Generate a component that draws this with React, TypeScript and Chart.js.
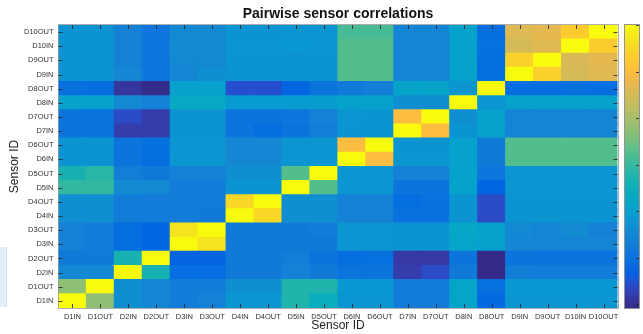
import React, { useEffect, useRef } from 'react';
import { Chart, registerables } from 'chart.js';

Chart.register(...registerables);

const sensors = ['D1IN', 'D1OUT', 'D2IN', 'D2OUT', 'D3IN', 'D3OUT', 'D4IN', 'D4OUT', 'D5IN', 'D5OUT',
  'D6IN', 'D6OUT', 'D7IN', 'D7OUT', 'D8IN', 'D8OUT', 'D9IN', 'D9OUT', 'D10IN', 'D10OUT'];

// correlation of each row sensor with the sensors in column order
const corrD1IN = [1, 0.55, 0.13, 0.09, 0.05, 0.07, 0.16, 0.16, 0.35, 0.29, 0.16, 0.16, 0.05, 0.05, 0.23, -0.04, 0.16, 0.16, 0.16, 0.16];
const corrD1OUT = [0.55, 1, 0.13, 0.09, 0.05, 0.05, 0.13, 0.13, 0.35, 0.35, 0.17, 0.17, 0.05, 0.05, 0.23, -0.01, 0.17, 0.17, 0.17, 0.17];
const corrD2IN = [0.11, 0.11, 1, 0.33, -0.02, -0.02, 0.04, 0.04, 0.07, 0.04, 0.01, 0.01, -0.16, -0.12, 0.04, -0.22, 0.06, 0.05, 0.05, 0.05];
const corrD2OUT = [0.04, 0.04, 0.33, 1, -0.06, -0.06, 0.04, 0.04, 0.06, 0.01, -0.02, -0.01, -0.17, -0.17, 0.01, -0.22, 0.01, 0.01, 0.01, 0.01];
const corrD3IN = [0.07, 0.05, -0.02, -0.05, 1, 0.94, 0.04, 0.04, 0.04, 0.04, 0.16, 0.16, 0.15, 0.15, 0.23, 0.21, 0.10, 0.09, 0.09, 0.09];
const corrD3OUT = [0.07, 0.05, -0.02, -0.05, 0.94, 1, 0.04, 0.04, 0.04, 0.05, 0.16, 0.16, 0.15, 0.15, 0.24, 0.22, 0.11, 0.09, 0.12, 0.07];
const corrD4IN = [0.13, 0.13, 0.05, 0.05, 0.05, 0.04, 1, 0.90, 0.13, 0.13, 0.07, 0.07, 0.0, 0.0, 0.15, -0.12, 0.15, 0.15, 0.15, 0.15];
const corrD4OUT = [0.13, 0.13, 0.05, 0.05, 0.05, 0.05, 0.90, 1, 0.13, 0.13, 0.07, 0.07, -0.02, 0.0, 0.15, -0.12, 0.15, 0.15, 0.15, 0.15];
const corrD5IN = [0.39, 0.39, 0.12, 0.11, 0.05, 0.05, 0.15, 0.15, 1, 0.45, 0.16, 0.16, 0.01, 0.01, 0.22, -0.05, 0.16, 0.16, 0.16, 0.16];
const corrD5OUT = [0.33, 0.37, 0.06, 0.04, 0.07, 0.07, 0.13, 0.13, 0.45, 1, 0.16, 0.16, 0.07, 0.07, 0.22, 0.02, 0.16, 0.16, 0.16, 0.16];
const corrD6IN = [0.15, 0.15, 0.01, -0.02, 0.16, 0.16, 0.10, 0.10, 0.16, 0.16, 1, 0.80, 0.16, 0.16, 0.21, 0.04, 0.45, 0.45, 0.45, 0.45];
const corrD6OUT = [0.15, 0.15, 0.01, -0.01, 0.16, 0.16, 0.10, 0.10, 0.16, 0.16, 0.80, 1, 0.15, 0.15, 0.21, 0.04, 0.45, 0.45, 0.45, 0.45];
const corrD7IN = [0.01, 0.01, -0.16, -0.16, 0.15, 0.15, 0.01, -0.02, 0.01, 0.06, 0.15, 0.15, 1, 0.80, 0.15, 0.22, 0.09, 0.09, 0.09, 0.09];
const corrD7OUT = [0.01, 0.01, -0.12, -0.16, 0.15, 0.15, 0.01, 0.01, 0.02, 0.07, 0.16, 0.15, 0.80, 1, 0.13, 0.22, 0.09, 0.09, 0.09, 0.09];
const corrD8IN = [0.22, 0.21, 0.11, 0.07, 0.26, 0.26, 0.18, 0.18, 0.18, 0.19, 0.22, 0.22, 0.13, 0.13, 1, 0.16, 0.22, 0.22, 0.22, 0.22];
const corrD8OUT = [-0.01, -0.02, -0.18, -0.21, 0.21, 0.21, -0.11, -0.11, -0.05, 0.01, 0.04, 0.06, 0.23, 0.23, 0.16, 1, -0.02, -0.02, -0.01, -0.02];
const corrD9IN = [0.15, 0.15, 0.10, 0.02, 0.10, 0.13, 0.15, 0.15, 0.15, 0.15, 0.45, 0.45, 0.09, 0.09, 0.22, -0.02, 1, 0.88, 0.70, 0.73];
const corrD9OUT = [0.15, 0.15, 0.07, 0.02, 0.11, 0.11, 0.15, 0.15, 0.15, 0.15, 0.45, 0.45, 0.09, 0.09, 0.22, -0.02, 0.88, 1, 0.71, 0.74];
const corrD10IN = [0.15, 0.15, 0.07, 0.02, 0.12, 0.12, 0.16, 0.16, 0.17, 0.16, 0.45, 0.45, 0.09, 0.09, 0.22, -0.01, 0.70, 0.73, 1, 0.86];
const corrD10OUT = [0.15, 0.15, 0.07, 0.02, 0.11, 0.11, 0.15, 0.15, 0.16, 0.16, 0.43, 0.43, 0.09, 0.09, 0.22, -0.02, 0.72, 0.74, 0.86, 1];

const corrRows = [corrD1IN, corrD1OUT, corrD2IN, corrD2OUT, corrD3IN, corrD3OUT, corrD4IN, corrD4OUT,
  corrD5IN, corrD5OUT, corrD6IN, corrD6OUT, corrD7IN, corrD7OUT, corrD8IN, corrD8OUT,
  corrD9IN, corrD9OUT, corrD10IN, corrD10OUT];

const colorMin = -0.217;
const colorMax = 1;
const colorbarTicks = [-0.2, 0, 0.2, 0.4, 0.6, 0.8, 1];

const chartTitle = 'Pairwise sensor correlations';
const axisTitle = 'Sensor ID';

// MATLAB parula colormap
const PARULA = [
  [0.2081, 0.1663, 0.5292], [0.2116, 0.1898, 0.5777], [0.2123, 0.2138, 0.6270], [0.2081, 0.2386, 0.6771],
  [0.1959, 0.2645, 0.7279], [0.1707, 0.2919, 0.7792], [0.1253, 0.3242, 0.8303], [0.0591, 0.3598, 0.8683],
  [0.0117, 0.3875, 0.8820], [0.0060, 0.4086, 0.8828], [0.0165, 0.4266, 0.8786], [0.0329, 0.4430, 0.8720],
  [0.0498, 0.4586, 0.8641], [0.0629, 0.4737, 0.8554], [0.0723, 0.4887, 0.8467], [0.0779, 0.5040, 0.8384],
  [0.0793, 0.5200, 0.8312], [0.0749, 0.5375, 0.8263], [0.0641, 0.5570, 0.8240], [0.0488, 0.5772, 0.8228],
  [0.0343, 0.5966, 0.8199], [0.0265, 0.6137, 0.8135], [0.0239, 0.6287, 0.8038], [0.0231, 0.6418, 0.7913],
  [0.0228, 0.6535, 0.7768], [0.0267, 0.6642, 0.7607], [0.0384, 0.6743, 0.7436], [0.0590, 0.6838, 0.7254],
  [0.0843, 0.6928, 0.7062], [0.1133, 0.7015, 0.6859], [0.1453, 0.7098, 0.6646], [0.1801, 0.7177, 0.6424],
  [0.2178, 0.7250, 0.6193], [0.2586, 0.7317, 0.5954], [0.3022, 0.7376, 0.5712], [0.3482, 0.7424, 0.5473],
  [0.3953, 0.7459, 0.5244], [0.4420, 0.7481, 0.5033], [0.4871, 0.7491, 0.4840], [0.5300, 0.7491, 0.4661],
  [0.5709, 0.7485, 0.4494], [0.6099, 0.7473, 0.4337], [0.6473, 0.7456, 0.4188], [0.6834, 0.7435, 0.4044],
  [0.7184, 0.7411, 0.3905], [0.7525, 0.7384, 0.3768], [0.7858, 0.7356, 0.3633], [0.8185, 0.7327, 0.3498],
  [0.8507, 0.7299, 0.3360], [0.8824, 0.7274, 0.3217], [0.9139, 0.7258, 0.3063], [0.9450, 0.7261, 0.2886],
  [0.9739, 0.7314, 0.2666], [0.9938, 0.7455, 0.2403], [0.9990, 0.7653, 0.2164], [0.9955, 0.7861, 0.1967],
  [0.9880, 0.8066, 0.1794], [0.9789, 0.8271, 0.1633], [0.9697, 0.8481, 0.1475], [0.9626, 0.8705, 0.1309],
  [0.9589, 0.8949, 0.1132], [0.9598, 0.9218, 0.0948], [0.9661, 0.9514, 0.0755], [0.9763, 0.9831, 0.0538],
];

function parulaAt(t: number): string {
  const tt = Math.max(0, Math.min(1, t)) * (PARULA.length - 1);
  const i = Math.floor(tt);
  const j = Math.min(PARULA.length - 1, i + 1);
  const f = tt - i;
  const c = PARULA[i].map((a, k) => Math.round(255 * (a + (PARULA[j][k] - a) * f)));
  return `rgb(${c[0]},${c[1]},${c[2]})`;
}

function colorFor(v: number): string {
  return parulaAt((v - colorMin) / (colorMax - colorMin));
}

const FONT = '"Liberation Sans", Arial, Helvetica, sans-serif';
const TICK_COLOR = 'rgba(38,38,38,0.85)';

const decorPlugin = {
  id: 'decor',
  afterDatasetsDraw(chart: any) {
    const { ctx, chartArea: a, scales } = chart;
    const xs = scales.x;
    const ys = scales.y;
    ctx.save();
    // axes box
    ctx.strokeStyle = 'rgba(120,120,120,0.6)';
    ctx.lineWidth = 1;
    ctx.strokeRect(Math.round(a.left) - 0.5, Math.round(a.top) - 0.5, Math.round(a.right - a.left) + 1, Math.round(a.bottom - a.top) + 1);
    // inward ticks
    ctx.strokeStyle = TICK_COLOR;
    ctx.beginPath();
    const tl = 4;
    sensors.forEach((_, j) => {
      const px = Math.round(xs.getPixelForValue(j)) + 0.5;
      ctx.moveTo(px, a.top); ctx.lineTo(px, a.top + tl);
      ctx.moveTo(px, a.bottom); ctx.lineTo(px, a.bottom - tl);
    });
    sensors.forEach((_, i) => {
      const py = Math.round(ys.getPixelForValue(i)) + 0.5;
      ctx.moveTo(a.left, py); ctx.lineTo(a.left + tl, py);
      ctx.moveTo(a.right, py); ctx.lineTo(a.right - tl, py);
    });
    ctx.stroke();
    ctx.restore();
  },
  afterDraw(chart: any) {
    const { ctx, chartArea: a, scales } = chart;
    const cb = scales.cb;
    ctx.save();
    // title
    ctx.fillStyle = '#111';
    ctx.font = `bold 14px ${FONT}`;
    ctx.textAlign = 'center';
    ctx.textBaseline = 'middle';
    ctx.fillText(chartTitle, (a.left + a.right) / 2, 14);
    // colorbar
    const x0 = Math.round(cb.left) + 7;
    const w = 14;
    const top = cb.getPixelForValue(colorMax);
    const bottom = cb.getPixelForValue(colorMin);
    const grad = ctx.createLinearGradient(0, bottom, 0, top);
    const n = 32;
    for (let k = 0; k <= n; k++) grad.addColorStop(k / n, parulaAt(k / n));
    ctx.fillStyle = grad;
    ctx.fillRect(x0, top, w, bottom - top);
    ctx.strokeStyle = 'rgba(120,120,120,0.8)';
    ctx.lineWidth = 1;
    ctx.strokeRect(x0 - 0.5, Math.round(top) - 0.5, w + 1, Math.round(bottom - top) + 1);
    ctx.strokeStyle = TICK_COLOR;
    ctx.beginPath();
    colorbarTicks.forEach((v) => {
      const py = Math.round(cb.getPixelForValue(v)) + 0.5;
      ctx.moveTo(x0 + w, py); ctx.lineTo(x0 + w - 3, py);
    });
    ctx.stroke();
    ctx.restore();
  },
};

export default function App() {
  const ref = useRef<HTMLCanvasElement | null>(null);
  useEffect(() => {
    if (!ref.current) return;
    const datasets = corrRows.map((row, i) => ({
      label: sensors[i],
      data: sensors.map(() => [i - 0.5, i + 0.5]),
      backgroundColor: row.map((v) => colorFor(v)),
      borderWidth: 0,
      barPercentage: 1,
      categoryPercentage: 1,
      grouped: false,
      inflateAmount: 0.6,
    }));
    const chart = new Chart(ref.current, {
      type: 'bar',
      data: { labels: sensors, datasets: datasets as any },
      options: {
        responsive: false,
        animation: false,
        devicePixelRatio: 1,
        layout: { padding: { top: 25, right: 0, bottom: 0, left: 0 } },
        plugins: { legend: { display: false }, tooltip: { enabled: false }, title: { display: false } },
        scales: {
          x: {
            type: 'category',
            grid: { display: false, drawTicks: false },
            border: { display: false },
            ticks: { autoSkip: false, maxRotation: 0, minRotation: 0, padding: 4, color: '#333', font: { family: FONT, size: 7.5 } },
            title: { display: true, text: axisTitle, color: '#222', font: { family: FONT, size: 12 }, padding: { top: 0, bottom: 1 } },
            afterFit: (s: any) => { s.height = 26; },
          },
          y: {
            type: 'linear',
            min: -0.5,
            max: sensors.length - 0.5,
            grid: { display: false, drawTicks: false },
            border: { display: false },
            afterBuildTicks: (axis: any) => { axis.ticks = sensors.map((_, i) => ({ value: i })); },
            ticks: {
              autoSkip: false,
              padding: 5,
              color: '#333',
              font: { family: FONT, size: 7.5 },
              callback: (v: any) => sensors[Math.round(Number(v))] ?? '',
            },
            title: { display: true, text: axisTitle, color: '#222', font: { family: FONT, size: 12 }, padding: { top: 7, bottom: 0 } },
            afterFit: (s: any) => { s.width = 58.5; },
          },
          cb: {
            type: 'linear',
            position: 'right',
            min: colorMin,
            max: colorMax,
            grid: { display: false, drawTicks: false },
            border: { display: false },
            ticks: { display: false },
            afterBuildTicks: (axis: any) => { axis.ticks = colorbarTicks.map((v) => ({ value: v })); },
            afterFit: (s: any) => { s.width = 25.5; },
          },
        },
      },
      plugins: [decorPlugin],
    } as any);
    return () => chart.destroy();
  }, []);

  return (
    <div style={{ position: 'fixed', left: 0, top: 0, width: 643, height: 334, background: '#fff' }}>
      <div style={{ position: 'absolute', left: 0, top: 247, width: 6, height: 60, background: '#e4eff9', borderRight: '1px solid #cfe1f2' }} />
      <canvas ref={ref} width={643} height={334} style={{ position: 'absolute', left: 0, top: 0 }} />
    </div>
  );
}
